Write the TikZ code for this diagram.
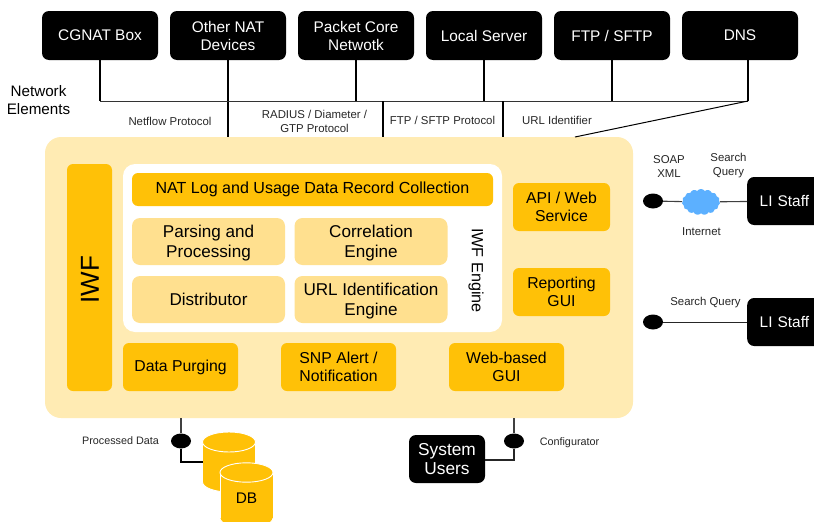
\documentclass[tikz,border=0pt]{standalone}
\usepackage{fontspec}
\setmainfont{Liberation Sans}
\usetikzlibrary{shapes.geometric,shapes.symbols}
\definecolor{paleY}{HTML}{FFEBB3}
\definecolor{midY}{HTML}{FFE08F}
\definecolor{deepY}{HTML}{FFC107}
\definecolor{cloudB}{HTML}{5CB0FF}
\tikzset{
  x=1pt,y=-1pt,
  blk/.style={fill=black,text=white,rounded corners=7pt,inner sep=0pt,minimum width=116pt,minimum height=49pt,align=center,font=\fontsize{15.4}{18}\selectfont},
  deepbox/.style={fill=deepY,text=black,rounded corners=6pt,inner sep=0pt,align=center,font=\fontsize{15.8}{18.5}\selectfont},
  midbox/.style={fill=midY,text=black,rounded corners=8pt,inner sep=0pt,align=center,minimum width=153pt,minimum height=47pt,font=\fontsize{17.1}{19.2}\selectfont},
  lab/.style={inner sep=0pt,align=center,text=black!85,font=\fontsize{11.4}{13.2}\selectfont},
  wire/.style={line width=1.3pt,draw=black},
  thin wire/.style={line width=1pt,draw=black!80},
  dot/.style={ellipse,fill=black,inner sep=0pt,minimum width=20pt,minimum height=15pt},
  dbpart/.style={fill=deepY,draw=white,line width=0.9pt},
}
\newcommand{\dbcan}[4]{%
  \path[dbpart] (#1,#3) ellipse [x radius=26.5pt,y radius=#4pt];
  \fill[deepY] (#1-26.5,#2) rectangle (#1+26.5,#3);
  \draw[white,line width=0.9pt] (#1-26.5,#2) -- (#1-26.5,#3) (#1+26.5,#2) -- (#1+26.5,#3);
  \path[dbpart] (#1,#2) ellipse [x radius=26.5pt,y radius=#4pt];
}
\newcommand{\lowr}{\rule{0pt}{15.5pt}}
\begin{document}
\begin{tikzpicture}
\useasboundingbox (0,0) rectangle (814,522);
% network elements
\node[blk] (cgnat) at (100,35.5) {CGNAT Box};
\node[blk] (onat) at (228,35.5) {Other NAT\\Devices};
\node[blk] (pcore) at (356,35.5) {Packet Core\\Netwotk};
\node[blk] (lsrv) at (484,35.5) {Local Server};
\node[blk] (ftp) at (612,35.5) {FTP / SFTP};
\node[blk] (dns) at (740,35.5) {DNS};
\node[inner sep=0pt,align=center,font=\fontsize{15.2}{18}\selectfont] (netel) at (38.5,100) {Network\\Elements};
% main panel
\node[fill=paleY,rounded corners=16pt,inner sep=0pt,minimum width=588pt,minimum height=281pt] (main) at (339,277.5) {};
\node[fill=deepY,rounded corners=6pt,inner sep=0pt,minimum width=45pt,minimum height=227pt] (iwf) at (89.5,277.5) {};
\node[rotate=90,font=\fontsize{26}{30}\selectfont,inner sep=0pt] (iwft) at (90,279.5) {IWF};
\node[fill=white,rounded corners=12pt,inner sep=0pt,minimum width=379pt,minimum height=168pt] (engine) at (312.5,248) {};
\node[deepbox,minimum width=361pt,minimum height=33pt,font=\fontsize{16.05}{19}\selectfont] (natlog) at (312.5,189.5) {NAT Log and Usage Data Record Collection};
\node[midbox] (parse) at (208.5,241.5) {\lowr Parsing and\\Processing};
\node[midbox] (corr) at (371,241.5) {\lowr Correlation\\Engine};
\node[midbox] (dist) at (208.5,299.5) {Distributor};
\node[midbox] (urlid) at (371,299.5) {\lowr URL Identification\\Engine};
\node[rotate=-90,inner sep=0pt,font=\fontsize{16.2}{19}\selectfont] (engl) at (476,270.5) {IWF Engine};
\node[deepbox,minimum width=97pt,minimum height=48pt] (api) at (561.5,207) {API / Web\\Service};
\node[deepbox,minimum width=97pt,minimum height=48pt] (rep) at (561.5,292) {Reporting\\GUI};
\node[deepbox,minimum width=115pt,minimum height=48pt] (purge) at (180.5,367) {Data Purging};
\node[deepbox,minimum width=115pt,minimum height=48pt] (snp) at (338.5,367) {SNP Alert /\\Notification};
\node[deepbox,minimum width=115pt,minimum height=48pt] (web) at (506.5,367) {Web-based\\GUI};
% bus
\coordinate (busL) at (cgnat.south |- 0,101);
\coordinate (busR) at (748,101);
\coordinate (dnsF) at (748,60);
\coordinate (dnsE) at (575,137);
\coordinate (pcT) at (383,101);
\coordinate (lsT) at (503,101);
\draw[wire] (cgnat.south) -- (busL);
\draw[wire] (pcore.south) -- (pcore.south |- busL);
\draw[wire] (lsrv.south) -- (lsrv.south |- busL);
\draw[wire] (ftp.south) -- (ftp.south |- busL);
\draw[wire] (dnsF) -- (busR);
\draw[wire] (onat.south) -- (onat.south |- main.north);
\draw[thin wire] (busL) -- (busR);
\draw[wire] (pcT) -- (pcT |- main.north);
\draw[wire] (lsT) -- (lsT |- main.north);
\draw[line width=1pt] (busR) -- (dnsE);
\node[lab] (l1) at (170,121) {Netflow Protocol};
\node[lab] (l2) at (314.5,121.5) {RADIUS / Diameter /\\GTP Protocol};
\node[lab] (l3) at (442.5,120.5) {FTP / SFTP Protocol};
\node[lab] (l4) at (557,120.5) {URL Identifier};
% right side
\node[blk,anchor=west,minimum width=80pt,minimum height=48pt,font=\fontsize{15.4}{18}\selectfont,text width=67pt,align=left] (li1) at (747,201) {\hspace*{6pt}LI Staff};
\node[blk,anchor=west,minimum width=80pt,minimum height=48pt,font=\fontsize{15.4}{18}\selectfont,text width=67pt,align=left] (li2) at (747,322) {\hspace*{6pt}LI Staff};
\node[dot] (d1) at (653,201) {};
\node[dot] (d2) at (653,322) {};
\node[cloud,cloud puffs=15,cloud puff arc=110,aspect=1.5,fill=cloudB,inner sep=0pt,minimum width=38pt,minimum height=26pt] (net) at (701,202) {};
\draw[line width=1.1pt,draw=black!75] (d1) -- (net);
\draw[line width=1.1pt,draw=black!75] (net) -- (li1);
\draw[line width=1pt,draw=black!85] (d2) -- (li2);
\node[lab] (soap) at (669,166.5) {SOAP\\XML};
\node[lab] (sq) at (728.5,165.5) {Search\\Query};
\node[lab] (inet) at (701.5,232) {Internet};
\node[lab] (sq2) at (705.5,303) {Search Query};
% bottom
\node[dot] (d3) at (181,441) {};
\node[dot] (d4) at (514,441) {};
\dbcan{229}{442}{482}{10}
\dbcan{246.5}{472.5}{518}{9.7}
\coordinate (db1w) at (202.5,462);
\node[inner sep=0pt,font=\fontsize{15.4}{18}\selectfont] (dbl) at (246.5,498) {DB};
\node[fill=black,text=white,rounded corners=7pt,inner sep=0pt,minimum width=76pt,minimum height=48pt,align=center,font=\fontsize{17.3}{18.5}\selectfont] (users) at (447,459) {System\\Users};
\coordinate (c3) at (181,462);
\coordinate (c4) at (514,460);
\draw[line width=1.1pt,draw=black!75] (d3 |- main.south) -- (d3);
\draw[line width=1.1pt,draw=black!75] (d4 |- main.south) -- (d4);
\draw[line width=1.1pt] (d3) -- (c3) -- (db1w);
\draw[line width=1.1pt,draw=black!85] (d4) -- (c4) -- (users.east |- c4);
\node[lab,font=\fontsize{10.8}{12}\selectfont] (pd) at (120.5,441) {Processed Data};
\node[lab,font=\fontsize{10.8}{12}\selectfont] (cfg) at (569.5,443) {Configurator};
\end{tikzpicture}
\end{document}
